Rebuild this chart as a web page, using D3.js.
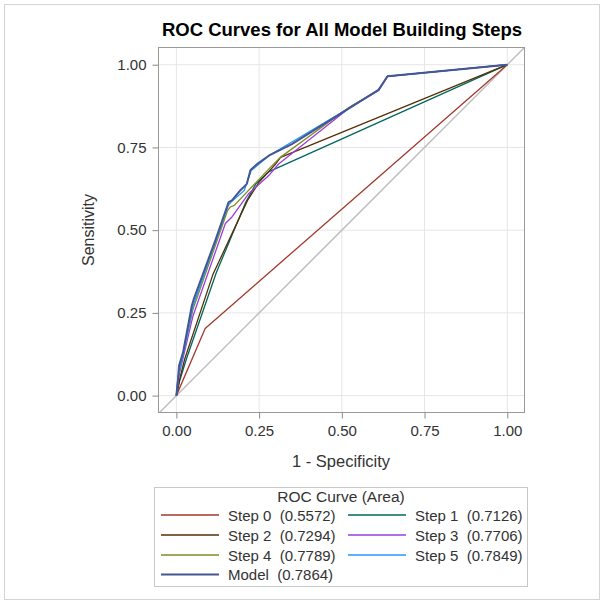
<!DOCTYPE html>
<html>
<head>
<meta charset="utf-8">
<script src="https://cdn.jsdelivr.net/npm/d3@7"></script>
<style>
  html, body { margin: 0; padding: 0; background: #fff; }
  svg text { font-family: "Liberation Sans", Arial, sans-serif; }
</style>
</head>
<body>
<svg id="chart" width="604" height="604"></svg>
<script>
// ---- data (1 - specificity, sensitivity) ----
const step0 = [[0,0],[0.087,0.203],[1,1]];
const step1 = [[0,0],[0.01,0.045],[0.03,0.11],[0.12,0.37],[0.21,0.585],[0.24,0.64],[0.28,0.677],[1,1]];
const step2 = [[0,0],[0.01,0.05],[0.025,0.11],[0.11,0.365],[0.215,0.59],[0.25,0.645],[0.30,0.70],[0.315,0.72],[1,1]];
const step3 = [[0,0],[0.005,0.04],[0.01,0.07],[0.05,0.24],[0.148,0.52],[0.168,0.54],[0.218,0.61],[0.279,0.665],[0.309,0.70],[0.53,0.875],[0.611,0.922],[0.638,0.965],[1,1]];
const step4 = [[0,0],[0.005,0.05],[0.01,0.08],[0.05,0.26],[0.155,0.56],[0.163,0.57],[0.175,0.575],[0.289,0.695],[0.314,0.72],[0.52,0.87],[0.611,0.924],[0.638,0.965],[1,1]];
const step5 = [[0,0],[0.005,0.06],[0.008,0.07],[0.02,0.12],[0.05,0.27],[0.157,0.575],[0.165,0.585],[0.205,0.62],[0.212,0.64],[0.226,0.68],[0.284,0.728],[0.611,0.922],[0.638,0.965],[1,1]];
const model = [[0,0],[0.005,0.05],[0.008,0.09],[0.02,0.13],[0.047,0.273],[0.052,0.29],[0.118,0.47],[0.158,0.585],[0.168,0.59],[0.193,0.62],[0.213,0.64],[0.224,0.682],[0.244,0.70],[0.279,0.725],[0.349,0.76],[0.611,0.924],[0.638,0.965],[1,1]];

const seriesNames = ["Step 0","Step 1","Step 2","Step 3","Step 4","Step 5","Model"];
const seriesAreas = ["0.5572","0.7126","0.7294","0.7706","0.7789","0.7849","0.7864"];
const seriesData = [step0, step1, step2, step3, step4, step5, model];
const seriesColors = ["#A23A2E","#01665E","#543005","#9D3CDB","#7F8E1F","#2597FA","#445694"];
const tickValues = [0, 0.25, 0.5, 0.75, 1];
const tickLabels = ["0.00","0.25","0.50","0.75","1.00"];

const chartTitle = "ROC Curves for All Model Building Steps";
const xTitle = "1 - Specificity";
const yTitle = "Sensitivity";
const legendTitle = "ROC Curve (Area)";

// ---- layout ----
const svg = d3.select("#chart");
const pL = 158.5, pR = 524.5, pT = 47.5, pB = 412.5;

svg.append("rect").attr("x", 4.5).attr("y", 4.5).attr("width", 595).attr("height", 595)
  .attr("fill", "#fff").attr("stroke", "#d4d4d4");

const x = d3.scaleLinear().domain([-0.054, 1.052]).range([pL, pR]);
const y = d3.scaleLinear().domain([-0.051, 1.052]).range([pB, pT]);

// grid
const g = svg.append("g");
g.selectAll(".gx").data(tickValues).join("line")
  .attr("x1", d => x(d)).attr("x2", d => x(d)).attr("y1", pT).attr("y2", pB)
  .attr("stroke", "#e6e6e6").attr("stroke-width", 1);
g.selectAll(".gy").data(tickValues).join("line")
  .attr("y1", d => y(d)).attr("y2", d => y(d)).attr("x1", pL).attr("x2", pR)
  .attr("stroke", "#e6e6e6").attr("stroke-width", 1);

// clip
svg.append("clipPath").attr("id", "clip").append("rect")
  .attr("x", pL).attr("y", pT).attr("width", pR - pL).attr("height", pB - pT);

const plot = svg.append("g").attr("clip-path", "url(#clip)");
// diagonal reference
plot.append("line")
  .attr("x1", x(-0.06)).attr("y1", y(-0.06)).attr("x2", x(1.06)).attr("y2", y(1.06))
  .attr("stroke", "#bdbdbd").attr("stroke-width", 1.5);

const line = d3.line().x(d => x(d[0])).y(d => y(d[1]));
seriesData.forEach((data, i) => {
  plot.append("path").datum(data).attr("d", line)
    .attr("fill", "none").attr("stroke", seriesColors[i])
    .attr("stroke-width", i === 6 ? 2 : 1.3).attr("stroke-linejoin", "round");
});

// frame
svg.append("rect").attr("x", pL).attr("y", pT).attr("width", pR - pL).attr("height", pB - pT)
  .attr("fill", "none").attr("stroke", "#9a9a9a");

// axes
const xAxis = d3.axisBottom(x).tickValues(tickValues).tickFormat((d, i) => tickLabels[i]).tickSize(6).tickSizeOuter(0).tickPadding(7);
const yAxis = d3.axisLeft(y).tickValues(tickValues).tickFormat((d, i) => tickLabels[i]).tickSize(6).tickSizeOuter(0).tickPadding(6);
const gx = svg.append("g").attr("transform", `translate(0,${pB})`).call(xAxis);
const gy = svg.append("g").attr("transform", `translate(${pL},0)`).call(yAxis);
[gx, gy].forEach(a => {
  a.select(".domain").remove();
  a.selectAll(".tick line").attr("stroke", "#8a8a8a");
  a.selectAll(".tick text").attr("fill", "#333").style("font-size", "15px")
    .style("font-family", "'Liberation Sans', Arial, sans-serif");
});

// titles
svg.append("text").attr("x", 342).attr("y", 36).attr("text-anchor", "middle")
  .style("font-size", "18.5px").style("font-weight", "bold").attr("fill", "#000").text(chartTitle);
svg.append("text").attr("x", 341).attr("y", 467).attr("text-anchor", "middle")
  .style("font-size", "16.5px").attr("fill", "#333").text(xTitle);
svg.append("text").attr("transform", "translate(94,230) rotate(-90)").attr("text-anchor", "middle")
  .style("font-size", "16px").attr("fill", "#333").text(yTitle);

// legend
const lg = svg.append("g");
lg.append("rect").attr("x", 154.5).attr("y", 487.5).attr("width", 373).attr("height", 99)
  .attr("fill", "#fff").attr("stroke", "#c8c8c8");
lg.append("text").attr("x", 341).attr("y", 502).attr("text-anchor", "middle")
  .style("font-size", "15.5px").attr("fill", "#333").text(legendTitle);
const colX = [161, 348];
const rowY = [515, 535, 555, 574.5];
seriesNames.forEach((name, i) => {
  const cx = colX[i % 2], cy = rowY[Math.floor(i / 2)];
  lg.append("line").attr("x1", cx).attr("x2", cx + 58).attr("y1", cy).attr("y2", cy)
    .attr("stroke", seriesColors[i]).attr("stroke-width", i === 6 ? 2 : 1.3);
  lg.append("text").attr("x", cx + 67).attr("y", cy + 5.5)
    .style("font-size", "15px").attr("fill", "#333")
    .text(`${name}\u00a0\u00a0(${seriesAreas[i]})`);
});
</script>
</body>
</html>
